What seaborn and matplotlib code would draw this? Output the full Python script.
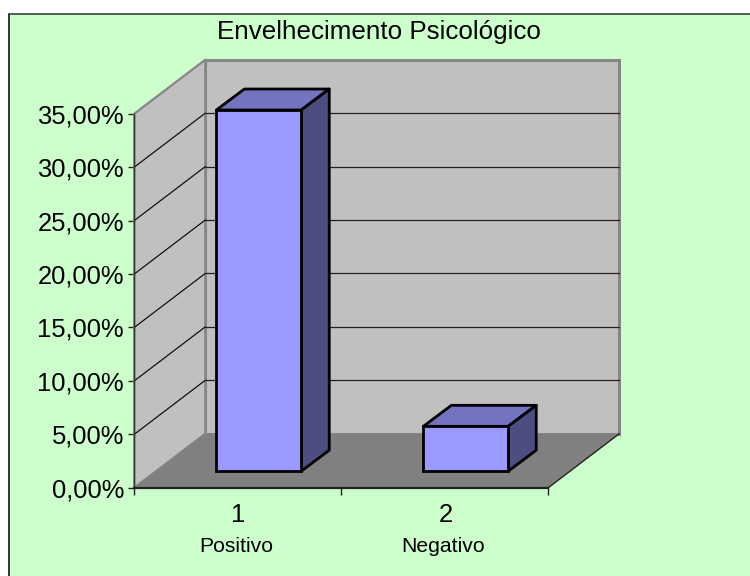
import matplotlib
matplotlib.use("Agg")
import matplotlib.pyplot as plt
from matplotlib.patches import Polygon, Rectangle
from matplotlib.lines import Line2D
import seaborn as sns
import pandas as pd

categories = ["1", "2"]
sublabels = ["Positivo", "Negativo"]
values = [33.8, 4.2]
yticks = [0, 5, 10, 15, 20, 25, 30, 35]
ytick_labels = ["0,00%", "5,00%", "10,00%", "15,00%", "20,00%", "25,00%", "30,00%", "35,00%"]
title = "Envelhecimento Psicológico"

BG = "#CCFFCC"; WALL = "#C0C0C0"; FLOOR = "#808080"; EDGE = "#868686"
FRONT = "#9999FF"; TOP = "#7373BF"; SIDE = "#4D4D80"

W, H = 750, 576
sns.set_theme(style="white")
plt.rcParams["font.family"] = ["Liberation Sans", "DejaVu Sans"]

fig = plt.figure(figsize=(W / 100, H / 100), dpi=100, facecolor="white")
# green chart area with left/top border only
PL, PT = 8.5, 13.5
fig.patches.append(Rectangle((PL / W, 0), 1 - PL / W, 1 - PT / H, transform=fig.transFigure,
                             facecolor=BG, edgecolor="none", figure=fig, zorder=-5))
fig.add_artist(Line2D([PL / W, PL / W], [0, 1 - PT / H], color="black", lw=1.1, zorder=-4))
fig.add_artist(Line2D([PL / W, 1], [1 - PT / H, 1 - PT / H], color="#333333", lw=1.1, zorder=-4))

# front plane of the box, in pixels
L, R, T, B = 134.3, 548.3, 113.7, 487.7
DX, DY = 71, 54          # wall depth
BAR_DX, BAR_DY = 21, 16.5  # bar front offset
BAR_DEPTH_X, BAR_DEPTH_Y = 28, 21
ax = fig.add_axes([L / W, 1 - B / H, (R - L) / W, (B - T) / H], facecolor="none")

df = pd.DataFrame({"cat": categories, "val": values})
sns.barplot(data=df, x="cat", y="val", ax=ax, width=0.41, color=FRONT, saturation=1,
            edgecolor="black", linewidth=2, zorder=5)
ax.set_xlim(-0.5, 1.5)
ax.set_ylim(0, 35)
ax.set_xlabel(""); ax.set_ylabel("")

ux = (R - L) / 2     # px per category
uy = (B - T) / 35    # px per percent
def dxu(px): return px / ux
def dyu(px): return px / uy

x0, x1, y0, y1 = -0.5, 1.5, 0, 35
wx, wy = dxu(DX), dyu(DY)

def poly(pts, **kw):
    p = Polygon(pts, closed=True, clip_on=False, **kw)
    ax.add_patch(p)
    return p

bars = list(ax.patches)

# back wall, side wall, floor
poly([(x0 + wx, y0 + wy), (x1 + wx, y0 + wy), (x1 + wx, y1 + wy), (x0 + wx, y1 + wy)],
     facecolor=WALL, edgecolor=EDGE, linewidth=2.2, zorder=1, joinstyle="miter")
poly([(x0, y0), (x0 + wx, y0 + wy), (x0 + wx, y1 + wy), (x0, y1)],
     facecolor=WALL, edgecolor=EDGE, linewidth=1.6, zorder=1.1, joinstyle="miter")
poly([(x0, y0), (x1, y0), (x1 + wx, y0 + wy), (x0 + wx, y0 + wy)],
     facecolor=FLOOR, edgecolor="none", zorder=1.2)

# gridlines on both walls
for t in yticks[1:-1]:
    ax.plot([x0, x0 + wx], [t, t + wy], color="#111111", lw=0.9, zorder=2, clip_on=False)
    ax.plot([x0 + wx, x1 + wx], [t + wy, t + wy], color="#222222", lw=0.9, zorder=2, clip_on=False)
ax.plot([x1, x1 + wx], [y0, y0 + wy], color="#222222", lw=1.0, zorder=2, clip_on=False)

# 3D bars: shift front faces, add top and side
ox, oy = dxu(BAR_DX), dyu(BAR_DY)
bx, by = dxu(BAR_DEPTH_X), dyu(BAR_DEPTH_Y)
for bar in bars:
    xa = bar.get_x() + ox
    xb = xa + bar.get_width()
    ya = oy
    yb = oy + bar.get_height()
    bar.set_x(xa); bar.set_y(ya)
    bar.set_clip_on(False)
    bar.set_joinstyle("miter")
    poly([(xa, yb), (xb, yb), (xb + bx, yb + by), (xa + bx, yb + by)],
         facecolor=TOP, edgecolor="black", linewidth=2, zorder=4.5, joinstyle="round")
    poly([(xb, ya), (xb + bx, ya + by), (xb + bx, yb + by), (xb, yb)],
         facecolor=SIDE, edgecolor="black", linewidth=2, zorder=4.5, joinstyle="round")

# axes
for s in ["top", "right"]:
    ax.spines[s].set_visible(False)
ax.spines["left"].set_color("#333333"); ax.spines["left"].set_linewidth(1.0)
ax.spines["bottom"].set_color("#222222"); ax.spines["bottom"].set_linewidth(1.6)
ax.spines["left"].set_zorder(3); ax.spines["bottom"].set_zorder(3)
ax.set_yticks(yticks, ytick_labels)
ax.set_xticks([x0, 0.5, x1], ["", "", ""])
ax.tick_params(axis="y", left=True, length=4.5, width=1, color="#222222", labelsize=18.4, pad=3, labelcolor="black")
ax.tick_params(axis="x", bottom=True, length=5, width=1, color="#222222")

for i, (c, s) in enumerate(zip(categories, sublabels)):
    ax.annotate(c, (i, 0), xytext=(0.5, -27 * 0.72), xycoords=("data", "axes fraction"),
                textcoords="offset points", ha="center", va="center", fontsize=18.4, color="black")
    ax.annotate(s, (i, 0), xytext=(-1.5 * 0.72, -59 * 0.72), xycoords=("data", "axes fraction"),
                textcoords="offset points", ha="center", va="center", fontsize=15.2, color="black")

fig.text(379 / W, 1 - 32 / H, title, ha="center", va="center", fontsize=18.7, color="black")

fig.savefig("out.png", dpi=100, facecolor="white")
